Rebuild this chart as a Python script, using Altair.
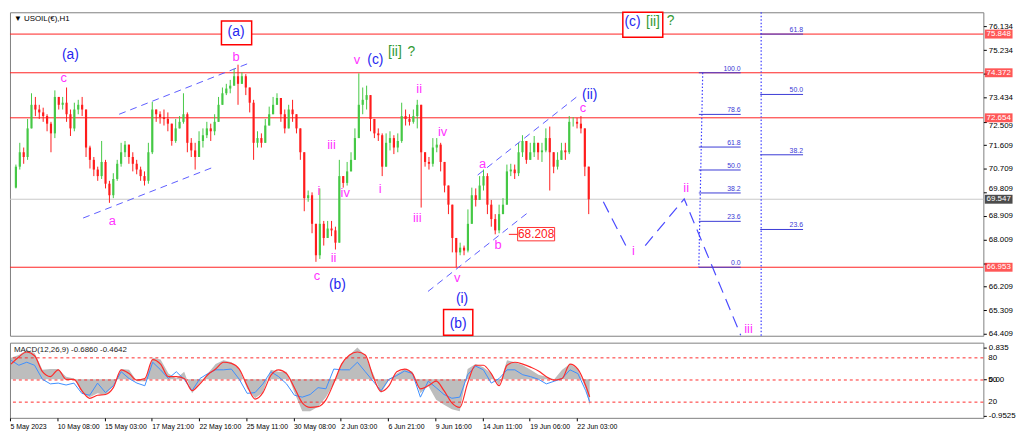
import altair as alt
import pandas as pd
import numpy as np

# ---------------- price data (H1 candles) ----------------
first_open = 69.99
closes = [70.79, 71.34, 71.16, 72.25, 73.15, 72.97, 72.86, 72.72, 72.43, 72.06,
          73.45, 73.15, 73.23, 72.79, 72.25, 72.97, 73.15, 72.97, 71.52, 71.05,
          70.68, 70.43, 70.97, 70.14, 69.70, 70.32, 70.90, 71.34, 71.63, 71.16,
          70.90, 70.68, 70.43, 70.25, 71.34, 72.97, 72.79, 72.68, 72.61, 72.43,
          71.77, 72.25, 72.50, 72.79, 71.70, 71.41, 71.16, 71.77, 71.99, 72.25,
          72.14, 72.50, 73.15, 73.59, 73.77, 73.88, 74.24, 73.95, 74.24, 73.81,
          73.23, 71.70, 71.88, 71.70, 72.36, 72.79, 73.15, 73.41, 72.79, 72.25,
          72.97, 72.79, 72.25, 71.34, 69.59, 69.70, 68.61, 67.41, 68.61, 68.07,
          68.43, 68.36, 67.89, 70.43, 70.17, 70.61, 71.05, 71.88, 73.15, 73.34,
          73.52, 72.61, 72.06, 71.99, 70.79, 71.70, 71.88, 71.52, 71.77, 72.72,
          72.61, 72.50, 72.72, 73.15, 71.34, 70.97, 70.90, 71.52, 71.63, 70.97,
          70.07, 69.34, 68.07, 67.52, 67.70, 67.59, 68.61, 69.70, 69.52, 70.07,
          70.43, 69.34, 68.79, 68.36, 68.98, 69.34, 70.61, 70.68, 70.54, 71.34,
          71.77, 71.05, 71.34, 71.70, 71.34, 71.41, 71.88, 71.34, 70.79, 71.05,
          71.41, 71.34, 72.50, 72.50, 72.43, 72.25, 70.79, 69.547]
highs = [70.87, 71.70, 71.52, 72.61, 73.59, 73.45, 73.15, 73.04, 72.79, 72.50,
         73.70, 73.41, 73.45, 73.81, 72.97, 73.23, 73.34, 73.45, 72.97, 71.59,
         71.16, 70.79, 71.77, 71.05, 70.25, 70.54, 71.05, 71.70, 71.77, 71.63,
         71.34, 71.05, 70.79, 70.61, 71.70, 73.26, 72.97, 72.90, 72.97, 72.86,
         72.36, 72.61, 72.72, 73.59, 72.86, 71.88, 71.70, 72.14, 72.25, 72.50,
         72.43, 72.79, 73.45, 73.81, 73.95, 74.10, 74.53, 74.68, 74.39, 74.32,
         73.70, 73.34, 72.14, 72.06, 72.61, 73.08, 73.45, 73.59, 73.34, 72.97,
         73.15, 73.34, 72.72, 72.14, 71.34, 69.88, 69.81, 68.61, 69.96, 68.72,
         68.72, 68.72, 68.50, 71.05, 70.43, 70.97, 71.34, 72.25, 74.35, 73.81,
         73.88, 73.34, 72.43, 72.25, 72.06, 72.06, 72.14, 71.99, 72.06, 73.23,
         72.97, 72.79, 72.97, 73.34, 72.97, 71.34, 71.16, 71.88, 71.88, 71.70,
         70.97, 70.07, 69.34, 68.07, 67.89, 67.78, 69.16, 69.99, 69.96, 70.43,
         70.68, 70.54, 69.52, 68.98, 69.34, 69.59, 70.87, 70.90, 70.87, 71.70,
         71.99, 71.70, 71.70, 71.96, 71.63, 71.70, 72.25, 72.32, 71.16, 71.34,
         71.70, 71.70, 72.72, 72.68, 72.65, 72.72, 72.25, 70.79]
lows = [69.96, 70.68, 70.90, 71.05, 72.50, 72.72, 72.61, 72.50, 72.14, 71.34,
        71.88, 72.97, 72.97, 72.50, 71.96, 72.14, 72.79, 72.72, 71.16, 70.72,
        70.43, 70.25, 70.32, 69.96, 69.41, 69.59, 70.25, 70.79, 71.16, 70.90,
        70.61, 70.50, 70.25, 70.07, 70.14, 71.27, 72.50, 72.43, 72.36, 72.14,
        71.59, 71.70, 72.28, 72.43, 71.34, 71.16, 70.68, 71.34, 71.52, 71.88,
        71.77, 71.99, 72.61, 73.23, 73.52, 73.59, 73.88, 73.15, 73.95, 73.52,
        72.86, 71.05, 71.52, 71.52, 71.70, 72.36, 72.86, 73.15, 72.50, 72.06,
        72.25, 72.50, 72.06, 71.05, 69.09, 69.45, 68.25, 67.16, 67.27, 67.78,
        68.07, 68.14, 67.63, 67.89, 69.99, 70.07, 70.61, 71.16, 72.06, 72.79,
        72.97, 72.14, 71.88, 71.77, 70.43, 70.97, 71.41, 71.27, 71.34, 71.70,
        72.36, 72.36, 72.43, 72.25, 69.23, 70.79, 70.68, 70.79, 71.34, 70.61,
        69.81, 68.98, 67.52, 66.95, 67.41, 67.41, 67.52, 68.98, 69.27, 69.70,
        69.88, 68.98, 68.50, 68.21, 68.25, 68.98, 69.34, 70.43, 70.32, 70.43,
        71.16, 70.90, 71.05, 71.16, 71.05, 70.97, 71.34, 69.88, 70.54, 70.68,
        71.05, 71.05, 71.27, 72.32, 72.25, 72.06, 70.43, 68.98]

# horizontal levels
red_levels = [75.848, 74.372, 72.654, 66.953]
red_labels = ["75.848", "74.372", "72.654", "66.953"]
last_price = [69.547]
last_label = ["69.547"]
price_ticks = [76.134, 75.234, 74.334, 73.434, 72.509, 71.609, 70.709,
               69.809, 68.909, 68.009, 67.109, 66.209, 65.309, 64.409]
hidden_ticks = [74.334, 67.109]   # covered by the red price tags

# wave labels
wave_text = ["(a)", "c", "(a)", "b", "a", "c", "(b)", "ii", "i", "iv", "iii", "v",
             "(c)", "[ii]", "?", "i", "ii", "iii", "iv", "a", "(ii)", "c", "v", "b",
             "(i)", "(b)", "i", "ii", "iii", "(c)", "[ii]", "?"]
wave_bar = [14, 12.25, 56.5, 56.5, 24.75, 77.25, 82.5, 81.5, 77.75, 84.5, 81, 87.5,
            92.25, 97.25, 101.5, 93.5, 103.5, 103, 109.5, 119.75, 147.25, 145.5, 113.25, 123.75,
            114.5, 113.5, 158.5, 172, 188, 158.25, 163.5, 168]
wave_price = [75.04, 74.17, 75.92, 74.97, 68.72, 66.61, 66.29, 67.30, 69.85, 69.77, 71.63, 74.86,
              74.86, 75.15, 75.15, 69.92, 73.77, 68.83, 72.10, 70.90, 73.52, 73.01, 66.54, 67.81,
              65.74, 64.80, 67.59, 69.96, 64.58, 76.32, 76.32, 76.35]
wave_kind = ["blue", "mag", "blue", "mag", "mag", "mag", "blue", "mag", "mag", "mag", "mag", "mag",
             "blue", "green", "green", "mag", "mag", "mag", "mag", "mag", "blue", "mag", "mag", "mag",
             "blue", "blue", "mag", "mag", "mag", "blue", "green", "green"]

# red boxes around key labels
box_x1 = [52.75, 109.75, 155.75]
box_x2 = [60.5, 117.25, 166]
box_y1 = [76.35, 65.34, 76.68]
box_y2 = [75.44, 64.36, 75.73]

# 68.208 price tag
tag_price = [68.208]
tag_text = ["68.208"]
tag_box = {"x1": [128.75], "x2": [138.25], "y1": [68.47], "y2": [67.96]}
tag_lead = {"x1": [126.5], "x2": [128.75]}

# channel lines (dashed)
chan_seg = ["L1", "L1", "L2", "L2", "L3", "L3", "L4", "L4"]
chan_bar = [17.25, 50.5, 26.5, 59.5, 105.75, 131.5, 118.5, 144.5]
chan_price = [68.83, 70.76, 72.79, 74.72, 66.03, 69.05, 70.47, 73.52]

# projected path
proj_seg = ["P1", "P1", "P2", "P2", "P2"]
proj_bar = [150.75, 156.5, 161.5, 171.5, 186]
proj_price = [69.45, 67.78, 67.78, 69.56, 64.36]

# fibonacci retracements
fib1_lab = ["100.0", "78.6", "61.8", "50.0", "38.2", "23.6", "0.0"]
fib1_price = [74.372, 72.784, 71.538, 70.663, 69.787, 68.704, 66.953]
fib2_lab = ["61.8", "50.0", "38.2", "23.6"]
fib2_price = [75.848, 73.545, 71.243, 68.394]

# ---------------- MACD panel data ----------------
macd_hist = [0.57, 0.64, 0.77, 0.69, 0.25, 0.27, 0.27, 0.07, 0.02, -0.35, -0.47, -0.37, -0.42, -0.17,
             0.27, 0.25, -0.05, -0.05, 0.57, 0.52, 0.15, 0.02, 0.20, -0.37, -0.10, 0.15, 0.40, 0.50,
             0.45, 0.27, -0.25, -0.50, -0.35, 0.25, 0.20, 0.20, -0.35, -0.84, -0.84, -0.72, -0.47,
             -0.12, 0.42, 0.64, 0.84, 0.62, 0.15, -0.37, -0.02, 0.15, 0.27, 0.20, -0.37, -0.17, -0.54,
             -0.67, -0.79, -0.84, 0.27, 0.40, 0.32, 0.15, -0.17, 0.50, 0.45, 0.37, 0.25, 0.12, 0.07,
             0.00, 0.25, 0.40, 0.27, -0.25, -0.686]
macd_signal = [0.40, 0.59, 0.72, 0.62, 0.20, 0.07, 0.25, 0.00, 0.00, -0.30, -0.50, -0.42, -0.40, -0.22,
               0.25, 0.15, -0.02, 0.02, 0.52, 0.40, 0.07, 0.07, 0.02, -0.30, -0.12, 0.12, 0.27, 0.45,
               0.42, 0.27, -0.17, -0.52, -0.35, 0.10, 0.25, 0.15, -0.22, -0.62, -0.74, -0.72, -0.54,
               -0.10, 0.40, 0.64, 0.72, 0.64, 0.07, -0.32, -0.17, 0.20, 0.27, 0.15, -0.25, -0.17, -0.05,
               -0.30, -0.62, -0.74, -0.10, 0.37, 0.37, 0.15, -0.17, 0.37, 0.45, 0.40, 0.32, 0.22, 0.07,
               -0.02, 0.02, 0.40, 0.27, -0.17, -0.4642]
macd_blue = [0.50, 0.37, 0.45, 0.37, 0.00, -0.12, -0.10, -0.15, -0.10, -0.37, -0.42, -0.10, -0.35, -0.17,
             0.20, 0.02, -0.10, -0.17, 0.45, 0.25, 0.02, 0.20, 0.00, -0.30, 0.02, 0.15, 0.25, 0.25,
             0.27, 0.00, -0.37, -0.35, -0.12, 0.20, 0.07, -0.12, -0.42, -0.47, -0.40, -0.22, -0.25,
             0.27, 0.25, 0.25, 0.45, 0.20, -0.05, -0.30, 0.00, 0.10, 0.22, 0.15, -0.47, -0.05, -0.22,
             -0.40, -0.50, -0.47, 0.12, 0.35, 0.25, -0.10, 0.02, 0.25, 0.25, 0.12, 0.07, 0.00, -0.12,
             -0.05, 0.02, 0.25, 0.15, -0.30, -0.59]
macd_bar = list(range(0, 148, 2)) + [147]
stoch_levels = [80, 50, 20]
stoch_labels = ["80", "50", "20"]
macd_ticks = [0.835, 0.0, -0.9525]

date_ticks = [-0.25, 11.75, 23.75, 35.75, 47.75, 59.75, 71.75, 83.75, 95.75, 107.75, 119.75, 131.75, 143.75]
date_labels = ["5 May 2023", "10 May 08:00", "15 May 03:00", "17 May 21:00", "22 May 16:00",
               "25 May 11:00", "30 May 08:00", "2 Jun 03:00", "6 Jun 21:00", "9 Jun 16:00",
               "14 Jun 11:00", "19 Jun 06:00", "22 Jun 03:00"]

# ---------------- build tables ----------------
candles = pd.DataFrame({"bar": list(range(len(closes))), "close": closes, "high": highs, "low": lows})
candles["open"] = [first_open] + closes[:-1]
candles["high"] = candles[["high", "open", "close"]].max(axis=1)
candles["low"] = candles[["low", "open", "close"]].min(axis=1)
candles["dir"] = np.where(candles["close"] >= candles["open"], "up", "down")

W, H_MAIN, H_MACD = 984, 327, 76
FONT = "Liberation Sans"
MAG, BLUE, GREEN, RED, FIB = "#ff33ff", "#2626f0", "#339933", "#ff2020", "#3a3ad6"

xs = alt.Scale(domain=[-0.25, 247], nice=False, zero=False)
ys = alt.Scale(domain=[64.34, 76.68], nice=False, zero=False)

hide_expr = " || ".join("abs(datum.value - %s) < 0.0005" % v for v in hidden_ticks)
price_axis = alt.Axis(orient="right", values=price_ticks, labelFontSize=8, labelFont=FONT,
                      labelExpr="(" + hide_expr + ") ? '' : format(datum.value, '.3f')",
                      labelOffset={"condition": [
                          {"test": "abs(datum.value - 69.809) < 0.0005", "value": -4},
                          {"test": "abs(datum.value - 72.509) < 0.0005", "value": 4}], "value": 0},
                      tickSize=3, labelPadding=2, domain=False, grid=False, title=None, labelOverlap=False,
                      labelColor="#000000", tickColor="#000000", labelFlush=False, labelBound=False)


def X(f):
    return alt.X(f, type="quantitative", scale=xs, axis=None)


def Y(f):
    return alt.Y(f, type="quantitative", scale=ys, axis=price_axis)


lvl_df = pd.DataFrame({"price": red_levels, "label": red_labels})
last_df = pd.DataFrame({"price": last_price, "label": last_label})

red_rules = alt.Chart(lvl_df).mark_rule(color=RED, strokeWidth=1).encode(y=Y("price"))
gray_rule = alt.Chart(last_df).mark_rule(color="#c8c8c8", strokeWidth=1).encode(y=Y("price"))

cscale = alt.Scale(domain=["up", "down"], range=["#45c845", "#ff1c1c"])
wicks = alt.Chart(candles).mark_rule(strokeWidth=1).encode(
    x=X("bar"), y=Y("low"), y2="high", color=alt.Color("dir:N", scale=cscale, legend=None))
bodies = alt.Chart(candles).mark_bar(width=2.2).encode(
    x=X("bar"), y=Y("open"), y2="close", color=alt.Color("dir:N", scale=cscale, legend=None))

chan_df = pd.DataFrame({"seg": chan_seg, "bar": chan_bar, "price": chan_price})
chan = alt.Chart(chan_df).mark_line(color="#5c5cff", strokeDash=[7, 5], strokeWidth=1).encode(
    x=X("bar"), y=Y("price"), detail="seg:N")

proj_df = pd.DataFrame({"seg": proj_seg, "bar": proj_bar, "price": proj_price})
proj = alt.Chart(proj_df).mark_line(color="#4a4aff", strokeDash=[12, 7], strokeWidth=1.2).encode(
    x=X("bar"), y=Y("price"), detail="seg:N")

fib1_df = pd.DataFrame({"price": fib1_price, "lab": fib1_lab, "x1": 175.25, "x2": 186})
fib2_df = pd.DataFrame({"price": fib2_price, "lab": fib2_lab, "x1": 191, "x2": 202})
fib_df = pd.concat([fib1_df, fib2_df], ignore_index=True)
fib_lines = alt.Chart(fib_df).mark_rule(color=FIB, strokeWidth=1).encode(x=X("x1"), x2="x2", y=Y("price"))
fib_text = alt.Chart(fib_df).mark_text(color=FIB, fontSize=7, font=FONT, align="right", baseline="bottom", dy=-1).encode(
    x=X("x2"), y=Y("price"), text="lab:N")
fib_v_df = pd.DataFrame({"x1": [176.25, 191.25], "x2": [175.25, 191.25],
                         "y1": [fib1_price[0], 76.68], "y2": [fib1_price[-1], 64.34]})
fib_v = alt.Chart(fib_v_df).mark_rule(color="#3c3cff", strokeDash=[1.5, 2], strokeWidth=1.2).encode(
    x=X("x1"), x2="x2", y=Y("y1"), y2="y2")

box_df = pd.DataFrame({"x1": box_x1, "x2": box_x2, "y1": box_y1, "y2": box_y2})
boxes = alt.Chart(box_df).mark_rect(fill="white", stroke="#ff0000", strokeWidth=1.5).encode(
    x=X("x1"), x2="x2", y=Y("y1"), y2="y2")

tag_box_df = pd.DataFrame(tag_box)
tag_rect = alt.Chart(tag_box_df).mark_rect(fill="white", stroke="#ff3030", strokeWidth=1).encode(
    x=X("x1"), x2="x2", y=Y("y1"), y2="y2")
tag_lead_df = pd.DataFrame({"x1": tag_lead["x1"], "x2": tag_lead["x2"], "price": tag_price})
tag_line = alt.Chart(tag_lead_df).mark_rule(color=RED, strokeWidth=1).encode(x=X("x1"), x2="x2", y=Y("price"))
tag_txt_df = pd.DataFrame({"x": [(tag_box["x1"][0] + tag_box["x2"][0]) / 2], "price": tag_price, "t": tag_text})
tag_txt = alt.Chart(tag_txt_df).mark_text(color=RED, fontSize=12, font=FONT).encode(
    x=X("x"), y=Y("price"), text="t:N")

wave_df = pd.DataFrame({"t": wave_text, "bar": wave_bar, "price": wave_price, "kind": wave_kind})


def wave_layer(kind, color, size):
    return alt.Chart(wave_df).transform_filter(alt.datum.kind == kind).mark_text(
        color=color, fontSize=size, font=FONT).encode(x=X("bar"), y=Y("price"), text="t:N")


waves = [wave_layer("mag", MAG, 13), wave_layer("blue", BLUE, 14), wave_layer("green", GREEN, 14)]

tag_boxes_axis = alt.Chart(lvl_df).mark_tick(orient="horizontal", color="#ff1010", thickness=9, size=28).encode(
    y=Y("price"), x=alt.value(W + 15.5))
tag_boxes_last = alt.Chart(last_df).mark_tick(orient="horizontal", color="#000000", thickness=9, size=28).encode(
    y=Y("price"), x=alt.value(W + 15.5))
axis_tag_txt = alt.Chart(pd.concat([lvl_df, last_df], ignore_index=True)).mark_text(
    color="white", fontSize=8, font=FONT).encode(y=Y("price"), x=alt.value(W + 15.5), text="label:N")

title = alt.Chart(alt.Data(values=[{}])).mark_text(
    text="\u25bc  USOIL(\u20ac),H1", fontSize=8, font=FONT, align="left", baseline="middle", color="#000").encode(
    x=alt.value(4), y=alt.value(7))

main = alt.layer(
    red_rules, gray_rule, wicks, bodies, chan, proj, fib_v, fib_lines, fib_text,
    boxes, tag_line, tag_rect, tag_txt, *waves,
    tag_boxes_axis, tag_boxes_last, axis_tag_txt, title
).properties(width=W, height=H_MAIN)

# ---------------- MACD panel ----------------
macd_df = pd.DataFrame({"bar": macd_bar, "hist": macd_hist, "signal": macd_signal, "blue": macd_blue})
ms = alt.Scale(domain=[-1.015, 0.965], nice=False, zero=False)
ss = alt.Scale(domain=[-1.3, 100.6], nice=False, zero=False)
xs2 = alt.Scale(domain=[-0.25, 247], nice=False, zero=False)

date_axis = alt.Axis(values=date_ticks, labelAlign="left", labelFontSize=7, labelFont=FONT, tickSize=3,
                     labelPadding=2, domain=False, grid=False, title=None, labelOverlap=False,
                     labelFlush=False, labelBound=False, labelColor="#000", tickColor="#000",
                     labelExpr="[" + ",".join("'" + s + "'" for s in date_labels) + "][round((datum.value + 0.25) / 12)]")
macd_axis = alt.Axis(orient="right", values=macd_ticks, labelFontSize=8, labelFont=FONT, tickSize=3,
                     labelPadding=2, domain=False, grid=False, title=None, labelOverlap=False,
                     labelFlush=False, labelBound=False, labelColor="#000", tickColor="#000",
                     labelExpr="datum.value == 0 ? '0.00' : toString(datum.value)")


def MX():
    return alt.X("bar:Q", scale=xs2, axis=date_axis)


hist = alt.Chart(macd_df).mark_area(color="#bdbdbd", opacity=1).encode(
    x=MX(), y=alt.Y("hist:Q", scale=ms, axis=macd_axis), y2=alt.datum(0))
st_df = pd.DataFrame({"lvl": stoch_levels, "lab": stoch_labels})
st_rules = alt.Chart(st_df).mark_rule(color="#ff2a2a", strokeDash=[3, 3], strokeWidth=1).encode(
    y=alt.Y("lvl:Q", scale=ss, axis=None))
st_text = alt.Chart(st_df).mark_text(fontSize=8, font=FONT, align="left", baseline="middle", color="#000").encode(
    y=alt.Y("lvl:Q", scale=ss, axis=None), x=alt.value(W + 5), text="lab:N")
blue_line = alt.Chart(macd_df).mark_line(color="#3d8fff", strokeWidth=1).encode(
    x=MX(), y=alt.Y("blue:Q", scale=ms, axis=None))
sig_line = alt.Chart(macd_df).mark_line(color="#ff2a2a", strokeWidth=1.2, interpolate="monotone").encode(
    x=MX(), y=alt.Y("signal:Q", scale=ms, axis=None))
header = alt.Chart(alt.Data(values=[{}])).mark_text(
    text="MACD(12,26,9) -0.6860 -0.4642", fontSize=8, font=FONT, align="left", baseline="middle", color="#222").encode(
    x=alt.value(4), y=alt.value(7))

macd = alt.layer(hist, st_rules, blue_line, sig_line, st_text, header).resolve_scale(y="independent").properties(
    width=W, height=H_MACD)

chart = alt.vconcat(main, macd, spacing=3).properties(padding=0, background="white").configure_view(
    stroke="#808080", strokeWidth=1)

chart.save("out.html", embed_options={"renderer": "svg", "actions": False})
